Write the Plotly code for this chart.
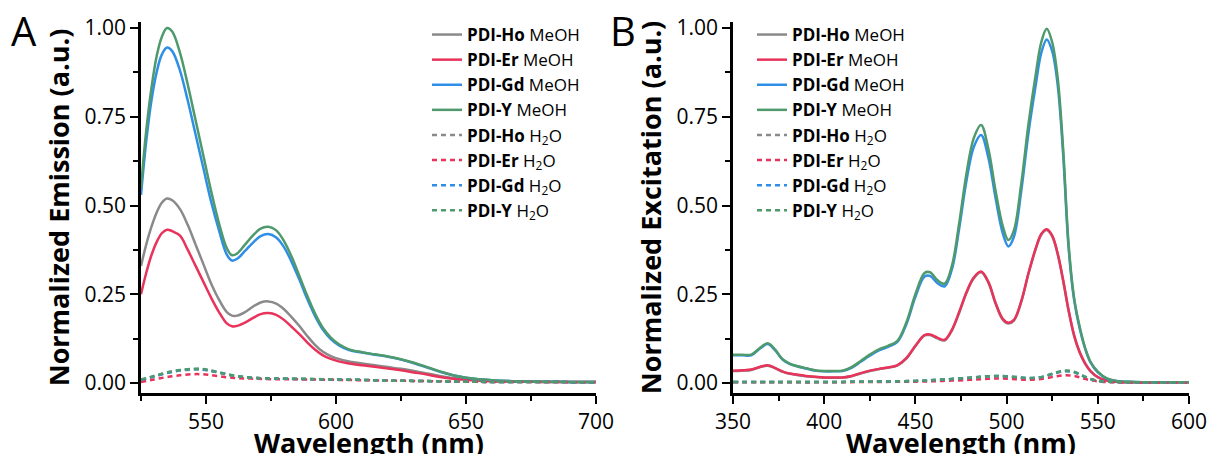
import plotly.graph_objects as go

# ---------------- Panel A: emission ----------------
A_wl = [525, 527, 529, 531, 533, 535, 537, 540, 543, 546, 549, 552, 555, 558, 560,
        562, 565, 568, 571, 574, 577, 580, 583, 586, 589, 592, 595, 598, 601, 605,
        610, 615, 620, 625, 630, 635, 640, 645, 650, 655, 660, 670, 680, 690, 700]
A_ho_meoh = [0.33, 0.39, 0.44, 0.48, 0.508, 0.52, 0.515, 0.49, 0.445, 0.39, 0.335, 0.28, 0.235, 0.2, 0.19,
             0.19, 0.2, 0.215, 0.227, 0.23, 0.224, 0.208, 0.185, 0.16, 0.132, 0.107, 0.088, 0.076, 0.068, 0.061,
             0.055, 0.05, 0.045, 0.04, 0.034, 0.027, 0.02, 0.014, 0.01, 0.007, 0.005, 0.004, 0.003, 0.003, 0.003]
A_er_meoh = [0.25, 0.31, 0.36, 0.397, 0.422, 0.432, 0.428, 0.415, 0.375, 0.33, 0.285, 0.24, 0.2, 0.168, 0.16,
             0.161, 0.17, 0.183, 0.194, 0.197, 0.192, 0.178, 0.158, 0.137, 0.114, 0.094, 0.078, 0.068, 0.061, 0.055,
             0.05, 0.046, 0.041, 0.036, 0.03, 0.024, 0.017, 0.012, 0.009, 0.007, 0.005, 0.004, 0.003, 0.003, 0.003]
A_gd_meoh = [0.53, 0.68, 0.795, 0.875, 0.925, 0.945, 0.935, 0.88, 0.795, 0.70, 0.605, 0.51, 0.43, 0.362, 0.345,
             0.35, 0.372, 0.395, 0.414, 0.42, 0.41, 0.383, 0.34, 0.29, 0.236, 0.188, 0.15, 0.124, 0.107, 0.093,
             0.086, 0.08, 0.074, 0.066, 0.056, 0.044, 0.032, 0.022, 0.015, 0.011, 0.008, 0.005, 0.004, 0.003, 0.003]
A_y_meoh = [0.55, 0.71, 0.83, 0.92, 0.975, 1.0, 0.99, 0.93, 0.84, 0.74, 0.64, 0.54, 0.45, 0.38, 0.36,
            0.365, 0.39, 0.415, 0.435, 0.44, 0.43, 0.40, 0.355, 0.30, 0.245, 0.195, 0.155, 0.128, 0.11, 0.095,
            0.087, 0.081, 0.075, 0.067, 0.057, 0.045, 0.033, 0.022, 0.015, 0.011, 0.008, 0.005, 0.004, 0.003, 0.003]

A_wl_h2o = [525, 530, 535, 540, 545, 548, 551, 555, 560, 565, 570, 575, 580, 590, 600,
            610, 620, 630, 640, 650, 660, 680, 700]
A_ho_h2o = [0.008, 0.018, 0.028, 0.035, 0.038, 0.038, 0.035, 0.029, 0.021, 0.016, 0.014, 0.013, 0.012, 0.011, 0.01,
            0.009, 0.007, 0.006, 0.005, 0.004, 0.003, 0.003, 0.002]
A_er_h2o = [0.003, 0.01, 0.017, 0.022, 0.025, 0.025, 0.023, 0.019, 0.015, 0.013, 0.012, 0.011, 0.011, 0.01, 0.009,
            0.008, 0.007, 0.006, 0.005, 0.004, 0.003, 0.003, 0.002]
A_gd_h2o = [0.009, 0.019, 0.029, 0.036, 0.039, 0.039, 0.036, 0.03, 0.022, 0.017, 0.014, 0.013, 0.012, 0.011, 0.01,
            0.009, 0.007, 0.006, 0.005, 0.004, 0.003, 0.003, 0.002]
A_y_h2o = [0.01, 0.02, 0.03, 0.037, 0.04, 0.04, 0.037, 0.03, 0.022, 0.017, 0.014, 0.013, 0.013, 0.012, 0.01,
           0.009, 0.007, 0.006, 0.005, 0.004, 0.003, 0.003, 0.002]

# ---------------- Panel B: excitation ----------------
B_wl = [350, 355, 360, 365, 369, 373, 377, 381, 385, 390, 395, 400, 405, 410, 415, 420, 425, 430,
        435, 440, 445, 450, 455, 458, 462, 466, 470, 474, 478, 482, 486, 490, 494, 498, 501, 504,
        508, 512, 516, 519, 522, 525, 528, 531, 534, 537, 540, 543, 546, 550, 555, 560, 570, 580,
        590, 600]
B_er_meoh = [0.035, 0.036, 0.038, 0.046, 0.05, 0.043, 0.033, 0.027, 0.024, 0.02, 0.018, 0.016, 0.016, 0.016,
             0.02, 0.028, 0.035, 0.04, 0.044, 0.05, 0.07, 0.105, 0.135, 0.137, 0.128, 0.122, 0.15, 0.2,
             0.256, 0.297, 0.314, 0.285, 0.225, 0.18, 0.17, 0.178, 0.23, 0.31, 0.38, 0.42, 0.433, 0.415,
             0.365, 0.29, 0.205, 0.135, 0.088, 0.056, 0.034, 0.017, 0.007, 0.004, 0.002, 0.002, 0.002, 0.002]
B_ho_meoh = [0.034, 0.035, 0.037, 0.045, 0.049, 0.042, 0.032, 0.026, 0.023, 0.019, 0.017, 0.015, 0.015, 0.015,
             0.019, 0.027, 0.034, 0.039, 0.043, 0.049, 0.069, 0.104, 0.134, 0.135, 0.126, 0.12, 0.148, 0.198,
             0.254, 0.295, 0.312, 0.283, 0.223, 0.178, 0.168, 0.176, 0.228, 0.308, 0.378, 0.418, 0.431, 0.413,
             0.363, 0.288, 0.203, 0.133, 0.087, 0.055, 0.033, 0.016, 0.007, 0.004, 0.002, 0.002, 0.002, 0.002]
B_gd_meoh = [0.078, 0.078, 0.078, 0.098, 0.11, 0.093, 0.067, 0.054, 0.047, 0.041, 0.035, 0.033, 0.033, 0.034,
             0.043, 0.06, 0.077, 0.092, 0.102, 0.115, 0.165, 0.243, 0.30, 0.302, 0.282, 0.272, 0.32, 0.435,
             0.57, 0.665, 0.699, 0.635, 0.52, 0.42, 0.385, 0.412, 0.54, 0.705, 0.84, 0.93, 0.968, 0.935,
             0.84, 0.645, 0.38, 0.235, 0.155, 0.098, 0.058, 0.03, 0.012, 0.006, 0.003, 0.002, 0.002, 0.002]
B_y_meoh = [0.08, 0.08, 0.08, 0.10, 0.112, 0.095, 0.068, 0.055, 0.048, 0.042, 0.036, 0.034, 0.034, 0.035,
            0.045, 0.062, 0.08, 0.095, 0.105, 0.118, 0.17, 0.25, 0.31, 0.312, 0.29, 0.28, 0.33, 0.45,
            0.59, 0.69, 0.727, 0.66, 0.54, 0.44, 0.403, 0.43, 0.56, 0.73, 0.87, 0.96, 0.998, 0.96,
            0.86, 0.66, 0.39, 0.24, 0.16, 0.10, 0.06, 0.032, 0.013, 0.006, 0.003, 0.002, 0.002, 0.002]

B_wl_h2o = [350, 375, 400, 425, 450, 465, 480, 490, 497, 505, 512, 520, 527, 532, 537, 542, 547, 552, 560, 575, 600]
B_ho_h2o = [0.003, 0.003, 0.003, 0.004, 0.006, 0.01, 0.015, 0.019, 0.019, 0.016, 0.013, 0.017, 0.028, 0.033, 0.03, 0.019, 0.009, 0.005, 0.003, 0.002, 0.002]
B_er_h2o = [0.002, 0.002, 0.002, 0.003, 0.004, 0.006, 0.009, 0.012, 0.013, 0.011, 0.009, 0.012, 0.019, 0.022, 0.02, 0.013, 0.007, 0.004, 0.002, 0.001, 0.001]
B_gd_h2o = [0.003, 0.003, 0.003, 0.004, 0.006, 0.01, 0.015, 0.019, 0.02, 0.017, 0.014, 0.018, 0.029, 0.034, 0.031, 0.02, 0.01, 0.005, 0.003, 0.002, 0.002]
B_y_h2o = [0.003, 0.003, 0.003, 0.004, 0.006, 0.01, 0.015, 0.019, 0.02, 0.017, 0.014, 0.018, 0.03, 0.035, 0.032, 0.02, 0.01, 0.005, 0.003, 0.002, 0.002]

names = ["<b>PDI-Ho</b> MeOH", "<b>PDI-Er</b> MeOH", "<b>PDI-Gd</b> MeOH", "<b>PDI-Y</b> MeOH",
         "<b>PDI-Ho</b> H<sub>2</sub>O", "<b>PDI-Er</b> H<sub>2</sub>O",
         "<b>PDI-Gd</b> H<sub>2</sub>O", "<b>PDI-Y</b> H<sub>2</sub>O"]
colors = ["#8a8a8a", "#e8335a", "#2f8fe6", "#4f9a6c"]
x_title = "<b>Wavelength (nm)</b>"

FONT = "Open Sans"
fig = go.Figure()

A_series = [(A_wl, A_ho_meoh), (A_wl, A_er_meoh), (A_wl, A_gd_meoh), (A_wl, A_y_meoh),
            (A_wl_h2o, A_ho_h2o), (A_wl_h2o, A_er_h2o), (A_wl_h2o, A_gd_h2o), (A_wl_h2o, A_y_h2o)]
B_series = [(B_wl, B_ho_meoh), (B_wl, B_er_meoh), (B_wl, B_gd_meoh), (B_wl, B_y_meoh),
            (B_wl_h2o, B_ho_h2o), (B_wl_h2o, B_er_h2o), (B_wl_h2o, B_gd_h2o), (B_wl_h2o, B_y_h2o)]

for i, (x, y) in enumerate(A_series):
    fig.add_trace(go.Scatter(
        x=x, y=y, name=names[i], mode="lines", line_shape="spline",
        line=dict(color=colors[i % 4], width=2.5, dash="solid" if i < 4 else "5px,4px"),
        xaxis="x", yaxis="y", legend="legend"))
for i, (x, y) in enumerate(B_series):
    fig.add_trace(go.Scatter(
        x=x, y=y, name=names[i], mode="lines", line_shape="spline",
        line=dict(color=colors[i % 4], width=2.5, dash="solid" if i < 4 else "5px,4px"),
        xaxis="x2", yaxis="y2", legend="legend2"))

W, H = 1210, 454
PLOT_TOP, PLOT_BOTTOM = 22, 393
PH = PLOT_BOTTOM - PLOT_TOP
A_DOM = [141 / W, 596 / W]
B_DOM = [733 / W, 1189 / W]


def py(px):
    """paper y fraction for a pixel row"""
    return 1 - (px - PLOT_TOP) / PH


axis_common = dict(showline=True, linecolor="black", linewidth=2.5, ticks="outside",
                   ticklen=8, tickwidth=2.2, tickcolor="black", showgrid=False, zeroline=False,
                   automargin=False, tickfont=dict(family=FONT, size=21, color="black"))
title_font = dict(family=FONT, size=27, color="black")
minor_common = dict(ticks="outside", ticklen=5, tickwidth=2.2, tickcolor="black", showgrid=False)

fig.update_layout(
    width=W, height=H, margin=dict(l=0, r=0, t=PLOT_TOP, b=H - PLOT_BOTTOM, autoexpand=False),
    paper_bgcolor="white", plot_bgcolor="white",
    xaxis=dict(domain=A_DOM, range=[525, 700], dtick=50, tick0=500,
               minor=dict(dtick=25, tick0=500, **minor_common),
               anchor="y", **axis_common),
    yaxis=dict(domain=[0, 1], range=[-0.028, 1.017], dtick=0.25, tick0=0, tickformat=".2f",
               minor=dict(dtick=0.125, tick0=0, **minor_common),
               title=dict(text="<b>Normalized Emission (a.u.)</b>", font=title_font, standoff=8),
               anchor="x", **axis_common),
    xaxis2=dict(domain=B_DOM, range=[350, 600], dtick=50, tick0=350,
                minor=dict(dtick=25, tick0=350, **minor_common),
                anchor="y2", **axis_common),
    yaxis2=dict(domain=[0, 1], range=[-0.028, 1.017], dtick=0.25, tick0=0, tickformat=".2f",
                minor=dict(dtick=0.125, tick0=0, **minor_common),
                title=dict(text="<b>Normalized Excitation (a.u.)</b>", font=title_font, standoff=8),
                anchor="x2", **axis_common),
    legend=dict(x=427 / W, y=py(17), xanchor="left", yanchor="top", bgcolor="rgba(0,0,0,0)",
                font=dict(family=FONT, size=17, color="black"), tracegroupgap=0),
    legend2=dict(x=752 / W, y=py(17), xanchor="left", yanchor="top", bgcolor="rgba(0,0,0,0)",
                 font=dict(family=FONT, size=17, color="black"), tracegroupgap=0),
    showlegend=True,
    annotations=[
        dict(text="A", x=24 / W, y=py(31), xref="paper", yref="paper", showarrow=False,
             font=dict(family=FONT, size=40, color="black"), xanchor="center", yanchor="middle"),
        dict(text="B", x=623 / W, y=py(31), xref="paper", yref="paper", showarrow=False,
             font=dict(family=FONT, size=40, color="black"), xanchor="center", yanchor="middle"),
        dict(text=x_title, x=sum(A_DOM) / 2, y=py(443), xref="paper", yref="paper", showarrow=False,
             font=title_font, xanchor="center", yanchor="middle"),
        dict(text=x_title, x=sum(B_DOM) / 2, y=py(443), xref="paper", yref="paper", showarrow=False,
             font=title_font, xanchor="center", yanchor="middle"),
    ],
)

fig.write_html("out.html", config={"displayModeBar": False},
               post_script="document.body.style.margin='0px';document.body.style.overflow='hidden';")
